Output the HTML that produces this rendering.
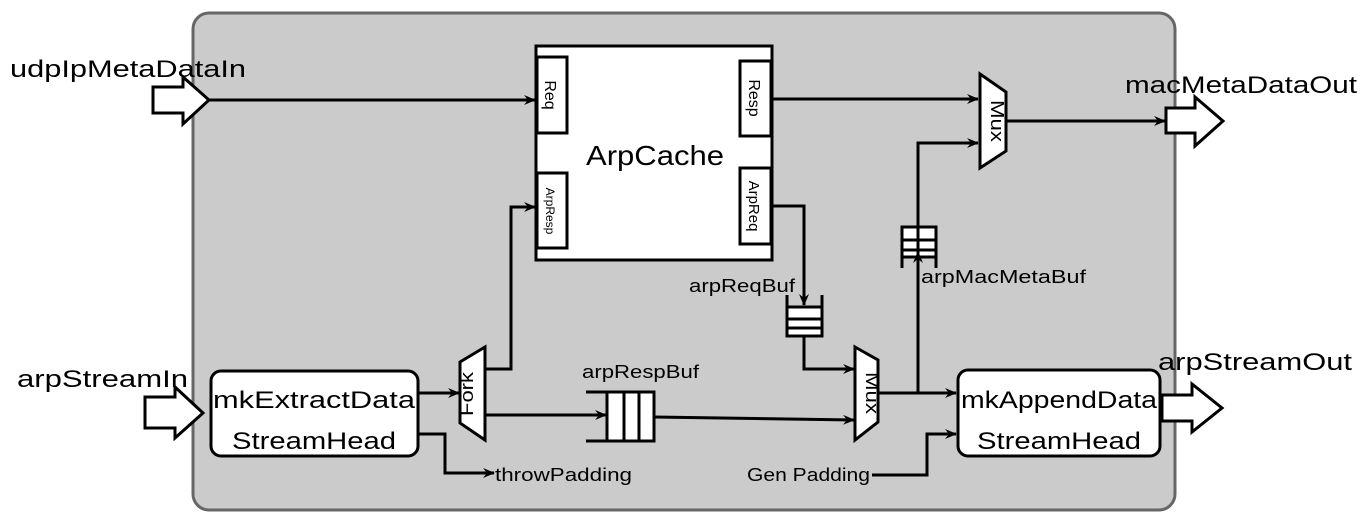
<!DOCTYPE html>
<html><head><meta charset="utf-8"><style>html,body{margin:0;padding:0;background:#fff}svg{display:block}text{font-family:"Liberation Sans","DejaVu Sans",sans-serif;fill:#000}</style></head>
<body>
<svg width="1360" height="520" viewBox="0 0 1360 520" xmlns="http://www.w3.org/2000/svg">
<defs>
<marker id="a" markerWidth="12" markerHeight="10" refX="11" refY="5" orient="auto" markerUnits="userSpaceOnUse">
<path d="M0,0 L12,5 L0,10 L4,5 Z" fill="#000"/>
</marker>
</defs>
<rect x="193" y="13" width="982" height="497" rx="16" fill="#cbcbcb" stroke="#666" stroke-width="3"/>

<!-- io arrows -->
<g fill="#fff" stroke="#000" stroke-width="3" stroke-linejoin="miter">
<path d="M153,87 H183 V77 L209,100 L183,124 V113 H153 Z"/>
<path d="M145,397 H175 V387 L203,413 L175,438 V428 H145 Z"/>
<path d="M1166,108 H1195 V97 L1223,121 L1195,146 V133 H1166 Z"/>
<path d="M1162,395 H1192 V384 L1222,408 L1192,432 V421 H1162 Z"/>
</g>

<!-- ArpCache -->
<rect x="536" y="46" width="236" height="214" fill="#fff" stroke="#000" stroke-width="3"/>
<g fill="#fff" stroke="#000" stroke-width="3">
<rect x="537" y="57" width="30" height="76"/>
<rect x="740" y="61" width="31" height="75"/>
<rect x="537" y="173" width="30" height="75"/>
<rect x="740" y="168" width="31" height="76"/>
</g>
<text x="655" y="165" font-size="28" text-anchor="middle" textLength="138" lengthAdjust="spacingAndGlyphs">ArpCache</text>
<text transform="translate(545,95) rotate(90)" font-size="16" text-anchor="middle">Req</text>
<text transform="translate(749,98) rotate(90)" font-size="16" text-anchor="middle">Resp</text>
<text transform="translate(546,211) rotate(90)" font-size="12" text-anchor="middle">ArpResp</text>
<text transform="translate(749,206) rotate(90)" font-size="15" text-anchor="middle">ArpReq</text>

<!-- mk boxes -->
<rect x="211" y="371" width="207" height="85" rx="10" fill="#fff" stroke="#000" stroke-width="3"/>
<text x="314" y="408" font-size="24" text-anchor="middle" textLength="202" lengthAdjust="spacingAndGlyphs">mkExtractData</text>
<text x="314" y="449" font-size="24" text-anchor="middle" textLength="164" lengthAdjust="spacingAndGlyphs">StreamHead</text>
<rect x="958" y="370" width="202" height="86" rx="10" fill="#fff" stroke="#000" stroke-width="3"/>
<text x="1059" y="408" font-size="24" text-anchor="middle" textLength="196" lengthAdjust="spacingAndGlyphs">mkAppendData</text>
<text x="1059" y="449" font-size="24" text-anchor="middle" textLength="164" lengthAdjust="spacingAndGlyphs">StreamHead</text>

<!-- fork & muxes -->
<g fill="#fff" stroke="#000" stroke-width="3">
<path d="M460,362 L485,347 L485,440 L460,423 Z"/>
<path d="M855,347 L878,360 L878,422 L855,440 Z"/>
<path d="M980,74 L1006,92 L1006,151 L980,168 Z"/>
</g>
<text transform="translate(473,394) rotate(-90)" font-size="18" text-anchor="middle" textLength="44" lengthAdjust="spacingAndGlyphs">Fork</text>
<text transform="translate(866,393) rotate(90)" font-size="18" text-anchor="middle" textLength="42" lengthAdjust="spacingAndGlyphs">Mux</text>
<text transform="translate(991,121) rotate(90)" font-size="18" text-anchor="middle" textLength="42" lengthAdjust="spacingAndGlyphs">Mux</text>

<!-- fifos -->
<g fill="#fff" stroke="#000" stroke-width="3">
<rect x="787" y="307" width="35" height="29"/>
<line x1="787" y1="319" x2="822" y2="319"/>
<line x1="787" y1="328" x2="822" y2="328"/>
<line x1="787" y1="295" x2="787" y2="307"/>
<line x1="822" y1="295" x2="822" y2="307"/>

<rect x="902" y="227" width="34" height="30"/>
<line x1="902" y1="240" x2="936" y2="240"/>
<line x1="902" y1="250" x2="936" y2="250"/>
<line x1="902" y1="257" x2="902" y2="268"/>
<line x1="936" y1="257" x2="936" y2="268"/>

<rect x="607" y="392" width="47" height="49"/>
<line x1="624" y1="392" x2="624" y2="441"/>
<line x1="639" y1="392" x2="639" y2="441"/>
<line x1="586" y1="392" x2="607" y2="392"/>
<line x1="586" y1="441" x2="607" y2="441"/>
</g>

<!-- connectors -->
<g fill="none" stroke="#000" stroke-width="3">
<path d="M209,100 H535" marker-end="url(#a)"/>
<path d="M772,99 H978" marker-end="url(#a)"/>
<path d="M1006,121 H1165" marker-end="url(#a)"/>
<path d="M918,268 V143 H978" marker-end="url(#a)"/>
<path d="M918,393 V252" marker-end="url(#a)"/>
<path d="M878,393 H956" marker-end="url(#a)"/>
<path d="M772,206 H804 V305" marker-end="url(#a)"/>
<path d="M804,336 V369 H854" marker-end="url(#a)"/>
<path d="M485,369 H511 V207 H535" marker-end="url(#a)"/>
<path d="M418,393 H459" marker-end="url(#a)"/>
<path d="M485,415 H606" marker-end="url(#a)"/>
<path d="M654,417 L854,420" marker-end="url(#a)"/>
<path d="M418,434 H445 V473 H494" marker-end="url(#a)"/>
<path d="M872,475 H927 V434 H956" marker-end="url(#a)"/>
</g>

<!-- labels -->
<text x="10" y="77" font-size="24" textLength="236" lengthAdjust="spacingAndGlyphs">udpIpMetaDataIn</text>
<text x="17" y="387" font-size="24" textLength="171" lengthAdjust="spacingAndGlyphs">arpStreamIn</text>
<text x="1125" y="93" font-size="24" textLength="232" lengthAdjust="spacingAndGlyphs">macMetaDataOut</text>
<text x="1158" y="370" font-size="24" textLength="194" lengthAdjust="spacingAndGlyphs">arpStreamOut</text>
<text x="689" y="292" font-size="18" textLength="106" lengthAdjust="spacingAndGlyphs">arpReqBuf</text>
<text x="582" y="378" font-size="18" textLength="117" lengthAdjust="spacingAndGlyphs">arpRespBuf</text>
<text x="921" y="283" font-size="18" textLength="165" lengthAdjust="spacingAndGlyphs">arpMacMetaBuf</text>
<text x="495" y="481" font-size="18" textLength="137" lengthAdjust="spacingAndGlyphs">throwPadding</text>
<text x="747" y="481" font-size="18" textLength="123" lengthAdjust="spacingAndGlyphs">Gen Padding</text>
</svg>
</body></html>
